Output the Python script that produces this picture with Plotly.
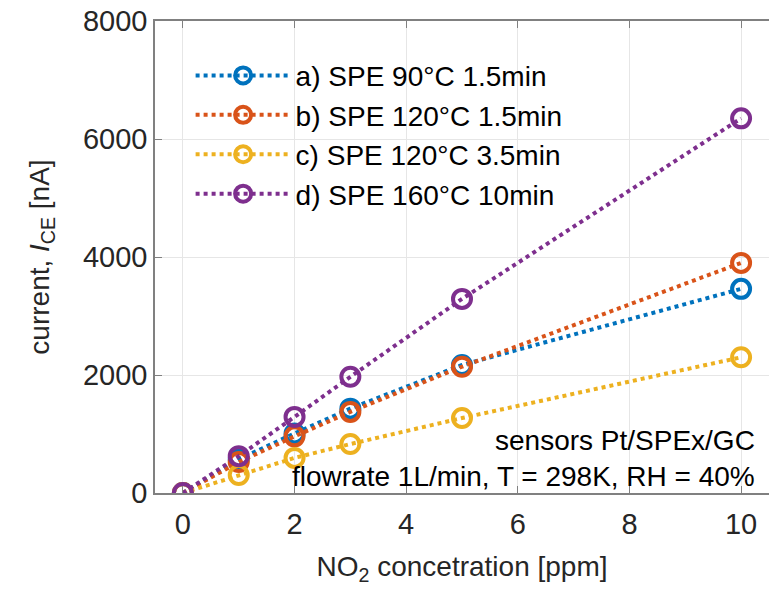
import plotly.graph_objects as go

conc = [0, 1, 2, 3, 5, 10]
series_names = ["a) SPE 90°C 1.5min", "b) SPE 120°C 1.5min",
                "c) SPE 120°C 3.5min", "d) SPE 160°C 10min"]
current_a = [0, 570, 1010, 1430, 2170, 3460]
current_b = [0, 525, 960, 1375, 2140, 3900]
current_c = [0, 305, 595, 830, 1270, 2300]
current_d = [0, 625, 1290, 1970, 3290, 6350]
colors = ["#0072BD", "#D95319", "#EDB120", "#7E2F8E"]

FONT = "Liberation Sans, Arial, sans-serif"

fig = go.Figure()
for i, (name, ys) in enumerate(zip(series_names, [current_a, current_b, current_c, current_d])):
    fig.add_trace(go.Scatter(
        x=conc, y=ys, name=name, mode="lines+markers",
        line=dict(color=colors[i], width=4, dash="dot"),
        marker=dict(symbol="circle-open", size=18, color=colors[i],
                    line=dict(width=4, color=colors[i])),
        legendgroup=str(i),
    ))

axis_common = dict(
    showline=True, linecolor="#808080", linewidth=1.5,
    ticks="inside", ticklen=7, tickcolor="#808080",
    showgrid=True, gridcolor="#e6e6e6", gridwidth=1, zeroline=False,
    tickfont=dict(size=29, color="#262626", family=FONT),
    automargin=False,
)

fig.update_layout(
    width=769, height=592,
    margin=dict(l=155, r=0, t=21, b=99, autoexpand=False),
    paper_bgcolor="white", plot_bgcolor="white",
    font=dict(family=FONT, color="#262626"),
    xaxis=dict(range=[-0.5, 10.5], tickvals=[0, 2, 4, 6, 8, 10], mirror="allticks",
               ticklabelstandoff=4,
               title=dict(text="NO<sub>2</sub> concetration [ppm]",
                          font=dict(size=28, color="#262626"), standoff=18),
               **axis_common),
    yaxis=dict(range=[0, 8000], tickvals=[0, 2000, 4000, 6000, 8000], mirror=False,
               title=dict(text="current, <i>I</i><sub>CE</sub> [nA]",
                          font=dict(size=28, color="#262626"), standoff=25),
               **axis_common),
    legend=dict(x=0.058, y=0.937, xanchor="left", yanchor="top", bgcolor="rgba(0,0,0,0)",
                font=dict(size=28, color="#000000", family=FONT),
                tracegroupgap=0, itemwidth=95),
    showlegend=True,
)

fig.add_annotation(xref="paper", yref="paper", x=0.98, y=0.112, xanchor="right", yanchor="middle",
                   text="sensors Pt/SPEx/GC", showarrow=False,
                   font=dict(size=28, color="#000000", family=FONT))
fig.add_annotation(xref="paper", yref="paper", x=0.98, y=0.034, xanchor="right", yanchor="middle",
                   text="flowrate 1L/min, T = 298K, RH = 40%", showarrow=False,
                   font=dict(size=28, color="#000000", family=FONT))

fig.write_html("out.html", config={"displayModeBar": False},
               post_script="document.body.style.margin='0px';document.body.style.overflow='hidden';")
